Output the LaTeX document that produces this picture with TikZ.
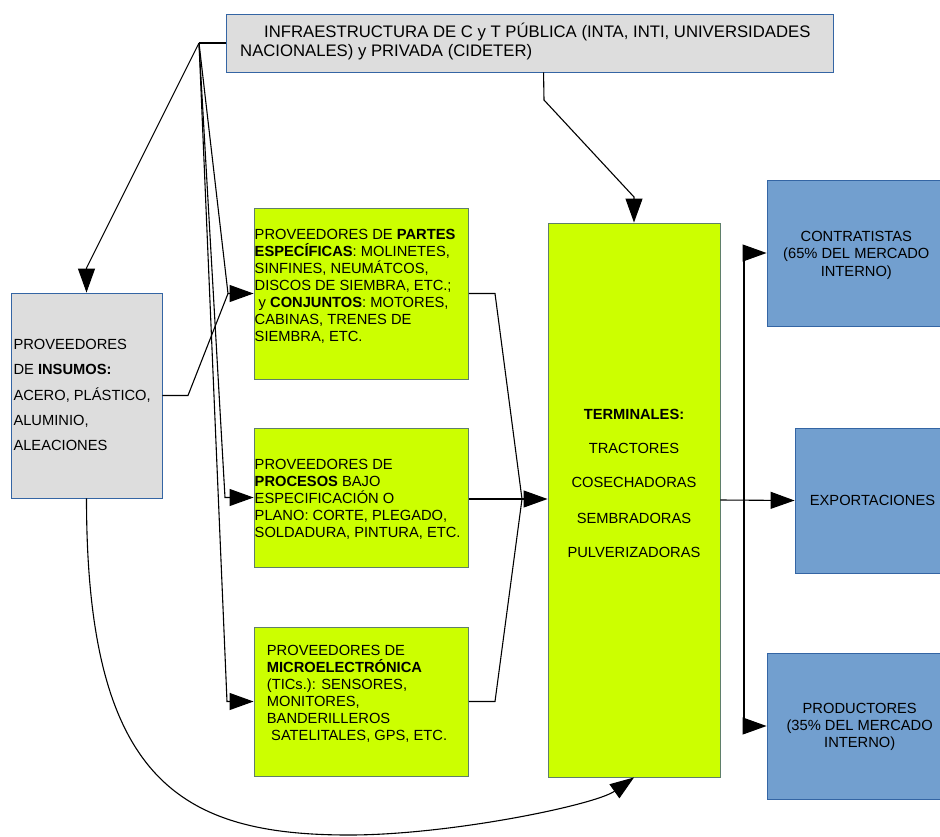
\documentclass[tikz,border=0pt]{standalone}
\usepackage{fontspec}
\setmainfont{Liberation Sans}
\usetikzlibrary{arrows.meta}
\definecolor{grayfill}{HTML}{DDDDDD}
\definecolor{blueline}{HTML}{3465A4}
\definecolor{greenfill}{HTML}{CCFF00}
\definecolor{greenline}{HTML}{5F7F6A}
\definecolor{bluefill}{HTML}{729FCF}
\begin{document}
\begin{tikzpicture}[x=1pt,y=-1pt,
  boxbase/.style={rectangle, inner sep=0pt, line width=0.9pt},
  graybox/.style={boxbase, fill=grayfill, draw=blueline},
  greenbox/.style={boxbase, fill=greenfill, draw=greenline},
  bluebox/.style={boxbase, fill=bluefill, draw=blueline},
  txt/.style={inner sep=0pt, anchor=base west, font=\fontsize{14.7}{17}\selectfont},
  ctxt/.style={inner sep=0pt, anchor=base, font=\fontsize{14.7}{17}\selectfont},
  itxt/.style={inner sep=0pt, anchor=base west, font=\fontsize{16.7}{19}\selectfont},
  conn/.style={line width=1.1pt, black},
  arr/.style={conn, -{Triangle[length=24pt,width=17pt]}}
]
\useasboundingbox (0,0) rectangle (940,836);
\clip (0,0) rectangle (940,836);
\fill[white] (0,0) rectangle (940,836);

% boxes
\node[graybox, minimum width=606.5pt, minimum height=58pt] (infra) at (529.75,43) {};
\node[graybox, minimum width=151pt, minimum height=205pt] (ins) at (86.5,395.5) {};
\node[greenbox, minimum width=214.5pt, minimum height=171pt] (partes) at (361.25,293.5) {};
\node[greenbox, minimum width=214.5pt, minimum height=139pt] (proc) at (361.25,497.5) {};
\node[greenbox, minimum width=214.5pt, minimum height=149pt] (micro) at (361.25,701.5) {};
\node[greenbox, minimum width=172pt, minimum height=554pt] (term) at (634,500) {};
\node[bluebox, minimum width=178pt, minimum height=146pt] (contr) at (856,253) {};
\node[bluebox, minimum width=155pt, minimum height=145pt] (expo) at (872.5,500.5) {};
\node[bluebox, minimum width=185pt, minimum height=146pt] (prod) at (859.5,726) {};

% connectors
\coordinate (hub) at (199,43);
\coordinate (jp) at (228,293.5);
\coordinate (jt) at (522,499);
\coordinate (vm) at (744,500);
\draw[conn] (infra.west) -- (hub);
\draw[arr] (hub) -- (86.5,268) -- (ins.north);
\draw[arr] (hub) -- (jp) -- (partes.west);
\draw[conn] (ins.east |- 0,395.5) -- (188,395.5) -- (jp);
\draw[arr] (hub) -- (225,497.5) -- (proc.west);
\draw[arr] (hub) -- (227,701.5) -- (micro.west);
\draw[arr] ([xshift=317.5pt]infra.south west) -- (544,100) -- (634,197) -- (term.north);
\draw[conn] (partes.east) -- (495,293.5) -- (jt);
\draw[conn] (micro.east) -- (495,701.5) -- (jt);
\draw[arr] (proc.east |- jt) -- (jt) -- (jt -| term.west);
\draw[arr] (term.east) -- (expo.west);
\draw[arr] (vm) -- (744,253) -- (contr.west);
\draw[arr] (vm) -- (744,726) -- (prod.west);
\draw[arr] (ins.south) .. controls (86.5,780) and (180,835) .. (349,835)
  .. controls (450,835) and (595,805) .. (term.south);

% texts
\node[itxt] (i1) at (264,37.3) {INFRAESTRUCTURA DE C y T PÚBLICA (INTA, INTI, UNIVERSIDADES};
\node[itxt] (i2) at (240,56) {NACIONALES) y PRIVADA (CIDETER)};

\node[txt] (s1) at (13.3,349.3) {PROVEEDORES};
\node[txt] (s2) at (13.3,374.7) {DE \textbf{INSUMOS:}};
\node[txt] (s3) at (13.3,400.1) {ACERO, PLÁSTICO,};
\node[txt] (s4) at (13.3,425.5) {ALUMINIO,};
\node[txt] (s5) at (13.3,450.9) {ALEACIONES};

\node[txt] (p1) at (254.5,239.3) {PROVEEDORES DE \textbf{PARTES}};
\node[txt] (p2) at (254.5,256.4) {\textbf{ESPECÍFICAS}: MOLINETES,};
\node[txt] (p3) at (254.5,273.5) {SINFINES, NEUMÁTCOS,};
\node[txt] (p4) at (254.5,290.6) {DISCOS DE SIEMBRA, ETC.;};
\node[txt] (p5) at (258.5,307.7) {y \textbf{CONJUNTOS}: MOTORES,};
\node[txt] (p6) at (254.5,324.8) {CABINAS, TRENES DE};
\node[txt] (p7) at (254.5,341.9) {SIEMBRA, ETC.};

\node[txt] (r1) at (254.5,469.3) {PROVEEDORES DE};
\node[txt] (r2) at (254.5,486.3) {\textbf{PROCESOS} BAJO};
\node[txt] (r3) at (254.5,503.3) {ESPECIFICACIÓN O};
\node[txt] (r4) at (254.5,520.3) {PLANO: CORTE, PLEGADO,};
\node[txt] (r5) at (254.5,537.3) {SOLDADURA, PINTURA, ETC.};

\node[txt] (m1) at (266.7,655) {PROVEEDORES DE};
\node[txt] (m2) at (266.7,672.1) {\textbf{MICROELECTRÓNICA}};
\node[txt] (m3) at (266.7,689.2) {(TICs.): SENSORES,};
\node[txt] (m4) at (266.7,706.3) {MONITORES,};
\node[txt] (m5) at (266.7,723.4) {BANDERILLEROS};
\node[txt] (m6) at (271,740.5) {SATELITALES, GPS, ETC.};

\node[ctxt] (t1) at (634,419.3) {\textbf{TERMINALES:}};
\node[ctxt] (t2) at (634,453.3) {TRACTORES};
\node[ctxt] (t3) at (634,487.5) {COSECHADORAS};
\node[ctxt] (t4) at (634,523.3) {SEMBRADORAS};
\node[ctxt] (t5) at (634,557.3) {PULVERIZADORAS};

\node[ctxt] (c1) at (856.3,241.7) {CONTRATISTAS};
\node[ctxt] (c2) at (856.3,258.9) {(65\% DEL MERCADO};
\node[ctxt] (c3) at (856.3,276.1) {INTERNO)};

\node[ctxt] (e1) at (872.5,505) {EXPORTACIONES};

\node[ctxt] (d1) at (859.7,713.3) {PRODUCTORES};
\node[ctxt] (d2) at (859.7,730.5) {(35\% DEL MERCADO};
\node[ctxt] (d3) at (859.7,747.7) {INTERNO)};
\end{tikzpicture}
\end{document}
